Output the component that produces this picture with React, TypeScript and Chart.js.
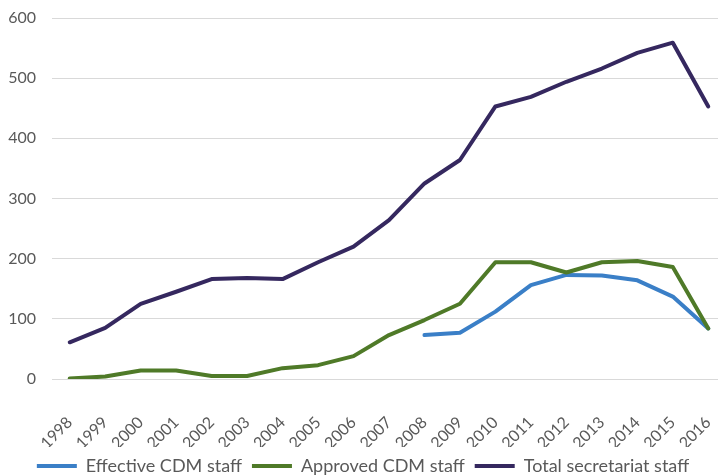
import React, { useEffect, useRef } from "react";
import { Chart, registerables } from "chart.js";

Chart.register(...registerables);

const years = ["1998","1999","2000","2001","2002","2003","2004","2005","2006","2007","2008","2009","2010","2011","2012","2013","2014","2015","2016"];
const effectiveCDM = [null,null,null,null,null,null,null,null,null,null,73,77,112,156,173,172,164,137,84];
const approvedCDM = [1,4,14,14,5,5,18,23,38,73,98,125,194,194,177,194,196,186,84];
const totalSecretariat = [61,85,125,145,166,168,166,194,220,264,325,364,453,469,494,516,542,559,453];
const seriesNames = ["Effective CDM staff", "Approved CDM staff", "Total secretariat staff"];
const seriesColors = ["#3a7fc7", "#4f7a28", "#35285f"];
const yTicks = [0, 100, 200, 300, 400, 500, 600];

const FONT = "Lato, 'Noto Sans', sans-serif";

export default function App() {
  const ref = useRef<HTMLCanvasElement | null>(null);
  useEffect(() => {
    if (!ref.current) return;
    const chart = new Chart(ref.current, {
      type: "line",
      data: {
        labels: years,
        datasets: [
          { label: seriesNames[0], data: effectiveCDM, borderColor: seriesColors[0], backgroundColor: seriesColors[0], order: 3 },
          { label: seriesNames[1], data: approvedCDM, borderColor: seriesColors[1], backgroundColor: seriesColors[1], order: 2 },
          { label: seriesNames[2], data: totalSecretariat, borderColor: seriesColors[2], backgroundColor: seriesColors[2], order: 1 },
        ],
      },
      options: {
        animation: false,
        responsive: false,
        maintainAspectRatio: false,
        elements: {
          line: { borderWidth: 4, tension: 0, borderJoinStyle: "round", borderCapStyle: "round" },
          point: { radius: 0, hoverRadius: 0 },
        },
        layout: { padding: { left: 0, right: 10, top: 18, bottom: 0 } },
        scales: {
          x: {
            offset: true,
            grid: { display: true, drawOnChartArea: false, drawTicks: true, tickLength: 32, color: "rgba(0,0,0,0)", tickColor: "rgba(0,0,0,0)" },
            border: { display: false },
            ticks: {
              color: "#595959",
              font: { family: FONT, size: 16 },
              minRotation: 45,
              maxRotation: 45,
              padding: 2,
              autoSkip: false,
            },
            afterFit: (s: any) => { s.height = 68; },
          },
          y: {
            min: 0,
            max: 600,
            grid: { color: "#d9d9d9", lineWidth: 1, drawTicks: true, tickLength: 13, tickColor: "rgba(0,0,0,0)" },
            border: { display: false },
            afterBuildTicks: (s: any) => { s.ticks = yTicks.map((v) => ({ value: v })); },
            ticks: {
              color: "#595959",
              font: { family: FONT, size: 16 },
              padding: 3,
            },
            afterFit: (s: any) => { s.width = 52; },
          },
        },
        plugins: {
          tooltip: { enabled: false },
          legend: {
            position: "bottom",
            labels: {
              color: "#595959",
              font: { family: FONT, size: 18 },
              boxWidth: 40,
              boxHeight: 4,
              padding: 10,
              generateLabels: (c: any) =>
                Chart.defaults.plugins.legend.labels
                  .generateLabels(c)
                  .sort((a: any, b: any) => a.datasetIndex - b.datasetIndex)
                  .map((l: any) => ({ ...l, lineWidth: 0, fillStyle: seriesColors[l.datasetIndex] })),
            },
          },
        },
      },
    });
    return () => chart.destroy();
  }, []);
  return (
    <div style={{ position: "fixed", left: 0, top: 0, width: 718, height: 475, overflow: "hidden", background: "#fff" }}>
      <canvas ref={ref} width={736} height={485} style={{ display: "block", width: 736, height: 485 }} />
    </div>
  );
}
